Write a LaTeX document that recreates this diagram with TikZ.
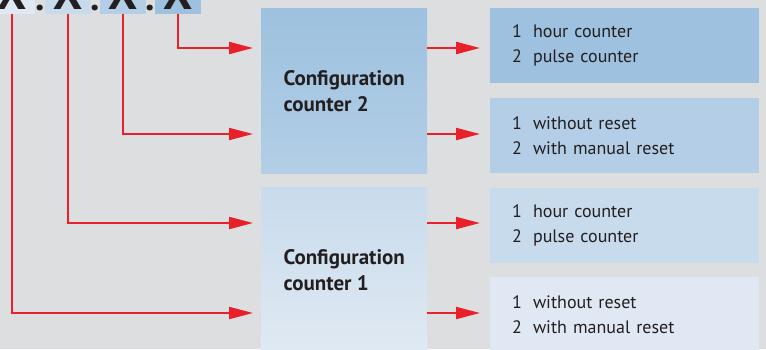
\documentclass[tikz,border=0pt]{standalone}
\usepackage{fontspec}
\setmainfont{PT Sans}
\usetikzlibrary{arrows.meta}
\definecolor{paper}{HTML}{DDDEE0}
\definecolor{ink}{HTML}{231F20}
\definecolor{alarm}{HTML}{E8202A}
\definecolor{blueA}{HTML}{9DC1DF}
\definecolor{blueB}{HTML}{B3CEE6}
\definecolor{blueC}{HTML}{C8DBEC}
\definecolor{blueD}{HTML}{E0E9F3}

\begin{document}
\begin{tikzpicture}[x=1pt,y=-1pt,every node/.style={inner sep=0pt, text=ink},
  xbox/.style={anchor=south, minimum width=46pt, text height=50pt, text depth=4pt, font=\bfseries\fontsize{46}{46}\selectfont},
  xdot/.style={anchor=base, font=\bfseries\fontsize{38}{38}\selectfont},
  cfgbox/.style={anchor=north west, minimum width=166pt, minimum height=165pt, align=left, font=\bfseries\fontsize{21}{26}\selectfont},
  optbox/.style={anchor=north west, minimum height=75pt, text width=225pt, inner xsep=22pt, inner ysep=0pt, align=left, font=\fontsize{18}{25}\selectfont},
  feed/.style={draw=alarm, line width=2pt, -{Triangle[length=24pt, width=12pt]}}]
  \useasboundingbox (0,0) rectangle (766,349);
  \fill[paper] (0,0) rectangle (766,349);
  % code digits
  \node[xbox, fill=blueD] (xbox1) at (12,14) {X};
  \node[xbox, fill=blueC] (xbox2) at (68,14) {X};
  \node[xbox, fill=blueB] (xbox3) at (123,14) {X};
  \node[xbox, fill=blueA] (xbox4) at (178,14) {X};
  \node[xdot] (dot1) at (40,10) {.};
  \node[xdot] (dot2) at (95.5,10) {.};
  \node[xdot] (dot3) at (150.5,10) {.};
  % configuration blocks
  \node[cfgbox, top color=blueA, bottom color=blueB] (cfg2) at (261,8) {Configuration\\counter 2};
  \node[cfgbox, top color=blueC, bottom color=blueD] (cfg1) at (261,187) {Configuration\\counter 1};
  % options
  \node[optbox, fill=blueA] (opt2a) at (490,8) {1\hspace{11pt}hour counter\\2\hspace{11pt}pulse counter};
  \node[optbox, fill=blueB] (opt2b) at (490,98) {1\hspace{11pt}without reset\\2\hspace{11pt}with manual reset};
  \node[optbox, fill=blueC] (opt1a) at (490,188) {1\hspace{11pt}hour counter\\2\hspace{11pt}pulse counter};
  \node[optbox, fill=blueD] (opt1b) at (490,277) {1\hspace{11pt}without reset\\2\hspace{11pt}with manual reset};
  % arrow levels
  \coordinate (lv4) at ([yshift=-40pt]cfg2.north west);
  \coordinate (lv3) at ([yshift=-126pt]cfg2.north west);
  \coordinate (lv2) at ([yshift=-36pt]cfg1.north west);
  \coordinate (lv1) at ([yshift=-126pt]cfg1.north west);
  \draw[feed, shorten >=8pt] (xbox4.south) |- (lv4);
  \draw[feed, shorten >=8pt] (xbox3.south) |- (lv3);
  \draw[feed, shorten >=8pt] (xbox2.south) |- (lv2);
  \draw[feed, shorten >=8pt] (xbox1.south) |- (lv1);
  \draw[feed, shorten >=10pt] (cfg2.east |- lv4) -- (opt2a.west |- lv4);
  \draw[feed, shorten >=10pt] (cfg2.east |- lv3) -- (opt2b.west |- lv3);
  \draw[feed, shorten >=10pt] (cfg1.east |- lv2) -- (opt1a.west |- lv2);
  \draw[feed, shorten >=10pt] (cfg1.east |- lv1) -- (opt1b.west |- lv1);
\end{tikzpicture}
\end{document}
